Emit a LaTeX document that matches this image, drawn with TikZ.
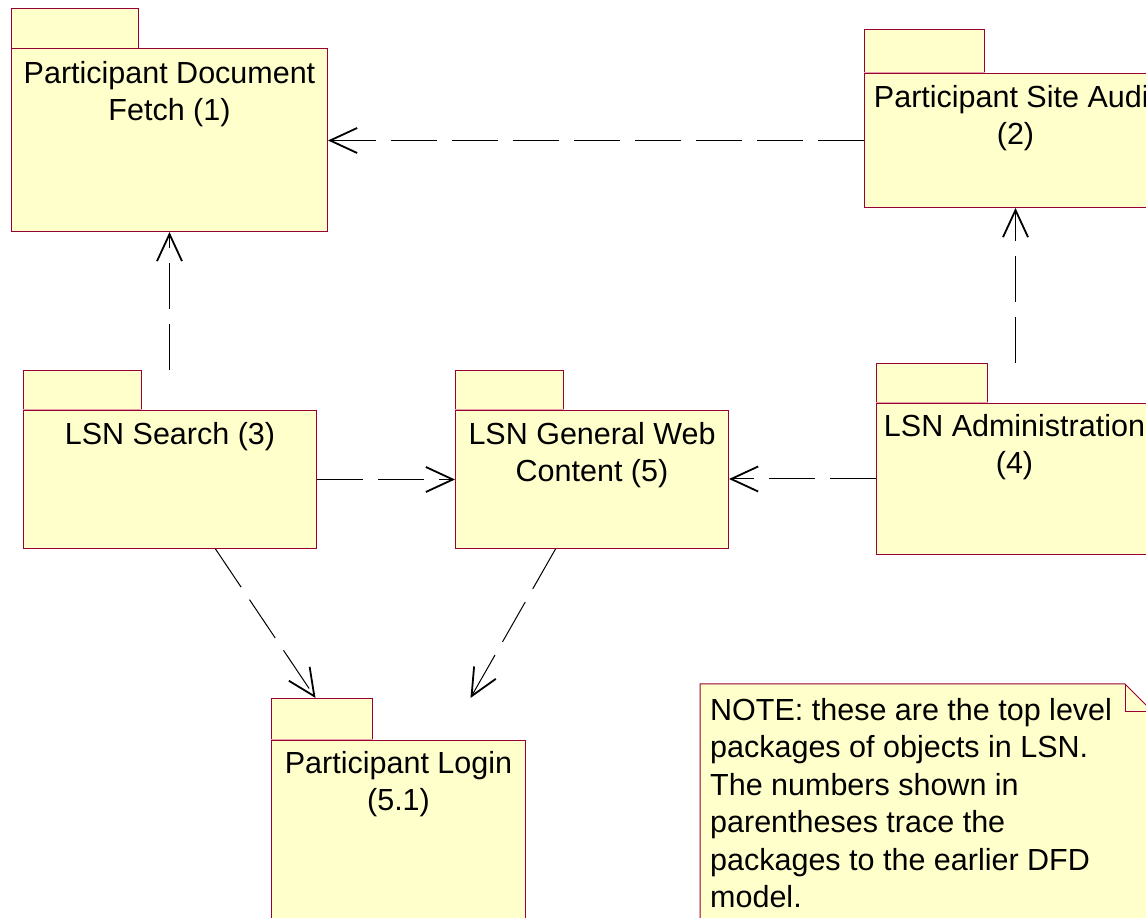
\documentclass[tikz,border=0pt]{standalone}
\usepackage{fontspec}
\setmainfont{Liberation Sans}
\usetikzlibrary{arrows.meta}
\definecolor{pkgfill}{HTML}{FFFFCC}
\definecolor{pkgdraw}{HTML}{990033}
\definecolor{pkgsep}{HTML}{E8A0A8}
\tikzset{
  pkg/.style={draw=pkgdraw, fill=pkgfill, line width=1pt, inner sep=0pt},
  pkgtext/.style={align=center, inner sep=0pt, font=\fontsize{30.5}{37.5}\selectfont},
  tabsep/.style={draw=pkgsep, line width=1pt},
  dep/.style={line width=1pt, dash pattern=on 46pt off 15pt,
    -{Straight Barb[length=27pt, width=25pt, line width=1.8pt]}}
}
\begin{document}
\begin{tikzpicture}[x=1pt, y=1pt]
                \useasboundingbox (0, 0) rectangle (1146, 918);
                \clip (0, 0) rectangle (1146, 918);

                % packages
                \node[pkg, minimum width=316pt, minimum height=183pt, anchor=north west] (fetch) at (11, 870) {};
                    \node[pkg, minimum width=127pt, minimum height=39pt, anchor=south west] (fetchtab) at (fetch.north west) {};
                    \draw[draw=pkgfill, line width=1pt] ([xshift=1pt]fetchtab.south west) to ([xshift=-1pt]fetchtab.south east);
                    \node[pkgtext, anchor=north] (fetchtxt) at ([yshift=-13pt]fetch.north) {Participant Document\\Fetch (1)};
                \node[pkg, minimum width=302pt, minimum height=134pt, anchor=north west] (audit) at (864, 845) {};
                    \node[pkg, minimum width=120pt, minimum height=43pt, anchor=south west] (audittab) at (audit.north west) {};
                    \draw[tabsep] (audittab.south west) to (audittab.south east);
                    \node[pkgtext, anchor=north] (audittxt) at ([yshift=-12pt]audit.north) {Participant Site Audit\\(2)};
                \node[pkg, minimum width=293pt, minimum height=138pt, anchor=north west] (search) at (23, 508) {};
                    \node[pkg, minimum width=118pt, minimum height=39pt, anchor=south west] (searchtab) at (search.north west) {};
                    \draw[tabsep] (searchtab.south west) to (searchtab.south east);
                    \node[pkgtext, anchor=north] (searchtxt) at ([yshift=-12pt]search.north) {LSN Search (3)};
                \node[pkg, minimum width=273pt, minimum height=138pt, anchor=north west] (web) at (455, 508) {};
                    \node[pkg, minimum width=108pt, minimum height=39pt, anchor=south west] (webtab) at (web.north west) {};
                    \draw[tabsep] (webtab.south west) to (webtab.south east);
                    \node[pkgtext, anchor=north] (webtxt) at ([yshift=-12pt]web.north) {LSN General Web\\Content (5)};
                \node[pkg, minimum width=276pt, minimum height=151pt, anchor=north west] (admin) at (876, 515) {};
                    \node[pkg, minimum width=111pt, minimum height=39pt, anchor=south west] (admintab) at (admin.north west) {};
                    \draw[tabsep] (admintab.south west) to (admintab.south east);
                    \node[pkgtext, anchor=north] (admintxt) at ([yshift=-11pt]admin.north) {LSN Administration\\(4)};
                \node[pkg, minimum width=254pt, minimum height=220pt, anchor=north west] (login) at (271, 178) {};
                    \node[pkg, minimum width=101pt, minimum height=41pt, anchor=south west] (logintab) at (login.north west) {};
                    \draw[tabsep] (logintab.south west) to (logintab.south east);
                    \node[pkgtext, anchor=north] (logintxt) at ([yshift=-11pt]login.north) {Participant Login\\(5.1)};

                % note
                \coordinate (notecorner) at (700, 234);
                \draw[pkg] (notecorner) -- ++(425, 0) -- ++(28, -28) -- ++(0, -280) -- ++(-453, 0) -- cycle;
                    \draw[pkg, fill=none] ([xshift=425pt]notecorner) |- ++(28, -28);
                    \node[pkgtext, align=left, anchor=north west] (notetxt) at (710, 220)
                        {NOTE: these are the top level\\packages of objects in LSN.\\The numbers shown in\\parentheses trace the\\packages to the earlier DFD\\model.};

                % dependencies
                \draw[dep] (audit.west) to (audit.west -| fetch.east);
                \draw[dep] (fetch.south |- searchtab.north) to (fetch.south);
                \draw[dep] (audit.south |- admintab.north) to (audit.south);
                \draw[dep] (search.east) to (web.west);
                \draw[dep] (admin.west) to (admin.west -| web.east);
                \draw[dep] ([xshift=45.5pt]search.south) to ([xshift=-6.5pt]logintab.north);
                \draw[dep] ([xshift=-36.5pt]web.south) to ([xshift=148.5pt]logintab.north);

\end{tikzpicture}
\end{document}
